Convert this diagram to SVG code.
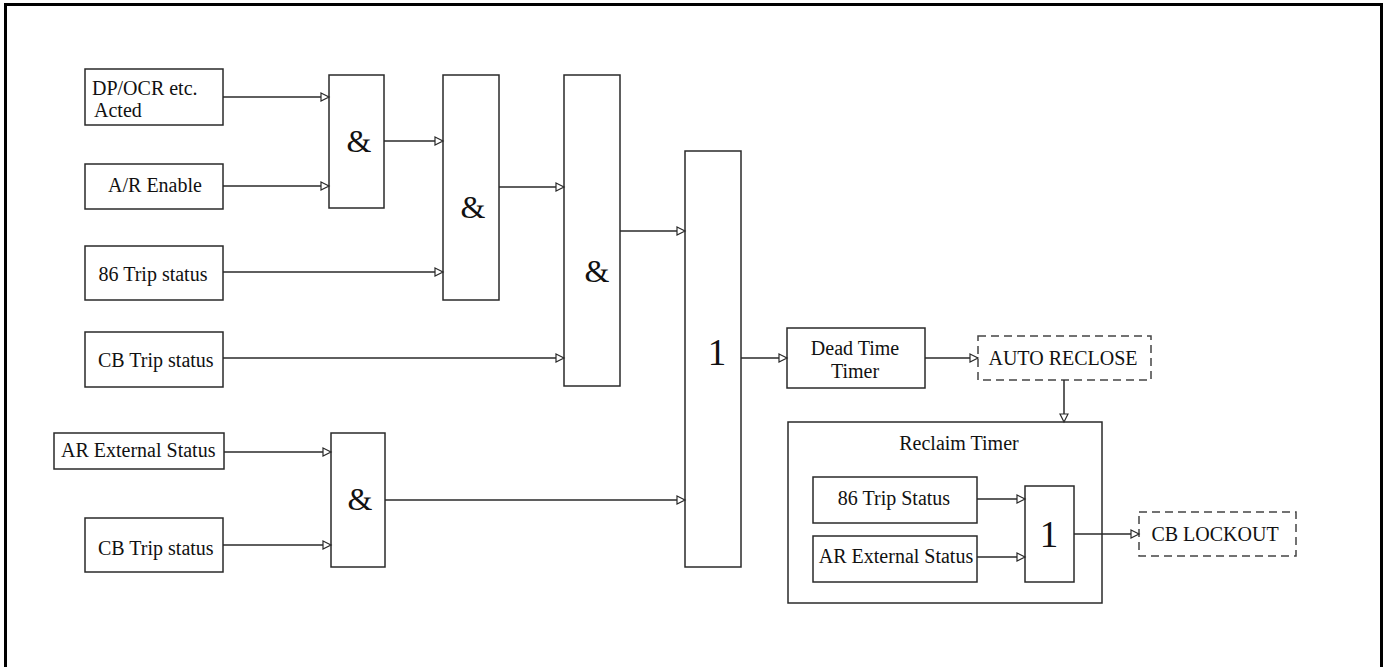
<svg xmlns="http://www.w3.org/2000/svg" width="1385" height="667" viewBox="0 0 1385 667">
<defs>
<style>
.b{fill:#fff;stroke:#2a2a2a;stroke-width:1.5}
.d{fill:#fff;stroke:#444;stroke-width:1.5;stroke-dasharray:8 5}
.t{font-family:'Liberation Serif','Times New Roman',serif;font-size:20px;fill:#111}
.m{text-anchor:middle}
.g{font-family:'Liberation Serif','Times New Roman',serif;font-size:32px;fill:#111;text-anchor:middle}
.o{font-family:'Liberation Serif','Times New Roman',serif;font-size:37px;fill:#111;text-anchor:middle}
.c{fill:none;stroke:#2a2a2a;stroke-width:1.5;marker-end:url(#ah)}
</style>
<marker id="ah" markerUnits="userSpaceOnUse" markerWidth="12" markerHeight="12" refX="9" refY="5" orient="auto" overflow="visible">
<path d="M1,1 L9,5 L1,9 Z" fill="#fff" stroke="#2a2a2a" stroke-width="1.2"/>
</marker>
</defs>
<rect x="5.5" y="4.5" width="1376" height="700" fill="#fff" stroke="#000" stroke-width="3"/>

<g id="n-dpocr"><rect class="b" x="85" y="69" width="138" height="56"/><text class="t" x="92" y="95">DP/OCR etc.</text><text class="t" x="94" y="117">Acted</text></g>
<g id="n-arenable"><rect class="b" x="85" y="164" width="138" height="45"/><text class="t m" x="155" y="192">A/R Enable</text></g>
<g id="n-86trip"><rect class="b" x="85" y="246" width="138" height="54"/><text class="t m" x="153" y="281">86 Trip status</text></g>
<g id="n-cbtrip1"><rect class="b" x="85" y="332" width="138" height="55"/><text class="t" x="98" y="367">CB Trip status</text></g>
<g id="n-arext"><rect class="b" x="54" y="433" width="170" height="36"/><text class="t" x="61" y="457">AR External Status</text></g>
<g id="n-cbtrip2"><rect class="b" x="85" y="518" width="138" height="54"/><text class="t" x="98" y="555">CB Trip status</text></g>

<g id="n-and1"><rect class="b" x="329" y="75" width="55" height="133"/><text class="g" x="359" y="152">&amp;</text></g>
<g id="n-and2"><rect class="b" x="443" y="75" width="56" height="225"/><text class="g" x="473" y="218">&amp;</text></g>
<g id="n-and3"><rect class="b" x="564" y="75" width="56" height="311"/><text class="g" x="597" y="282">&amp;</text></g>
<g id="n-and4"><rect class="b" x="331" y="433" width="54" height="134"/><text class="g" x="360" y="510">&amp;</text></g>
<g id="n-or1"><rect class="b" x="685" y="151" width="56" height="416"/><text class="o" x="717" y="365">1</text></g>

<g id="n-deadtime"><rect class="b" x="787" y="328" width="138" height="60"/><text class="t m" x="855" y="355">Dead Time</text><text class="t m" x="855" y="378">Timer</text></g>
<g id="n-autoreclose"><rect class="d" x="978" y="336" width="173" height="44"/><text class="t m" x="1063" y="365">AUTO RECLOSE</text></g>

<g id="n-reclaim"><rect class="b" x="788" y="422" width="314" height="181"/><text class="t m" x="959" y="450">Reclaim Timer</text></g>
<g id="n-86tripS"><rect class="b" x="813" y="477" width="164" height="46"/><text class="t m" x="894" y="505">86 Trip Status</text></g>
<g id="n-arext2"><rect class="b" x="813" y="536" width="164" height="46"/><text class="t m" x="896" y="563">AR External Status</text></g>
<g id="n-or2"><rect class="b" x="1025" y="486" width="49" height="96"/><text class="o" x="1049" y="547">1</text></g>
<g id="n-cblockout"><rect class="d" x="1139" y="512" width="157" height="44"/><text class="t m" x="1215" y="541">CB LOCKOUT</text></g>

<g id="connectors">
<path class="c" d="M223,97 H329"/>
<path class="c" d="M223,186 H329"/>
<path class="c" d="M384,141 H443"/>
<path class="c" d="M223,272 H443"/>
<path class="c" d="M499,187 H564"/>
<path class="c" d="M223,358 H564"/>
<path class="c" d="M620,231 H685"/>
<path class="c" d="M224,452 H331"/>
<path class="c" d="M223,545 H331"/>
<path class="c" d="M385,500 H685"/>
<path class="c" d="M741,358 H787"/>
<path class="c" d="M925,358 H978"/>
<path class="c" d="M1064,380 V422"/>
<path class="c" d="M977,499 H1025"/>
<path class="c" d="M977,557 H1025"/>
<path class="c" d="M1074,534 H1139"/>
</g>
</svg>
